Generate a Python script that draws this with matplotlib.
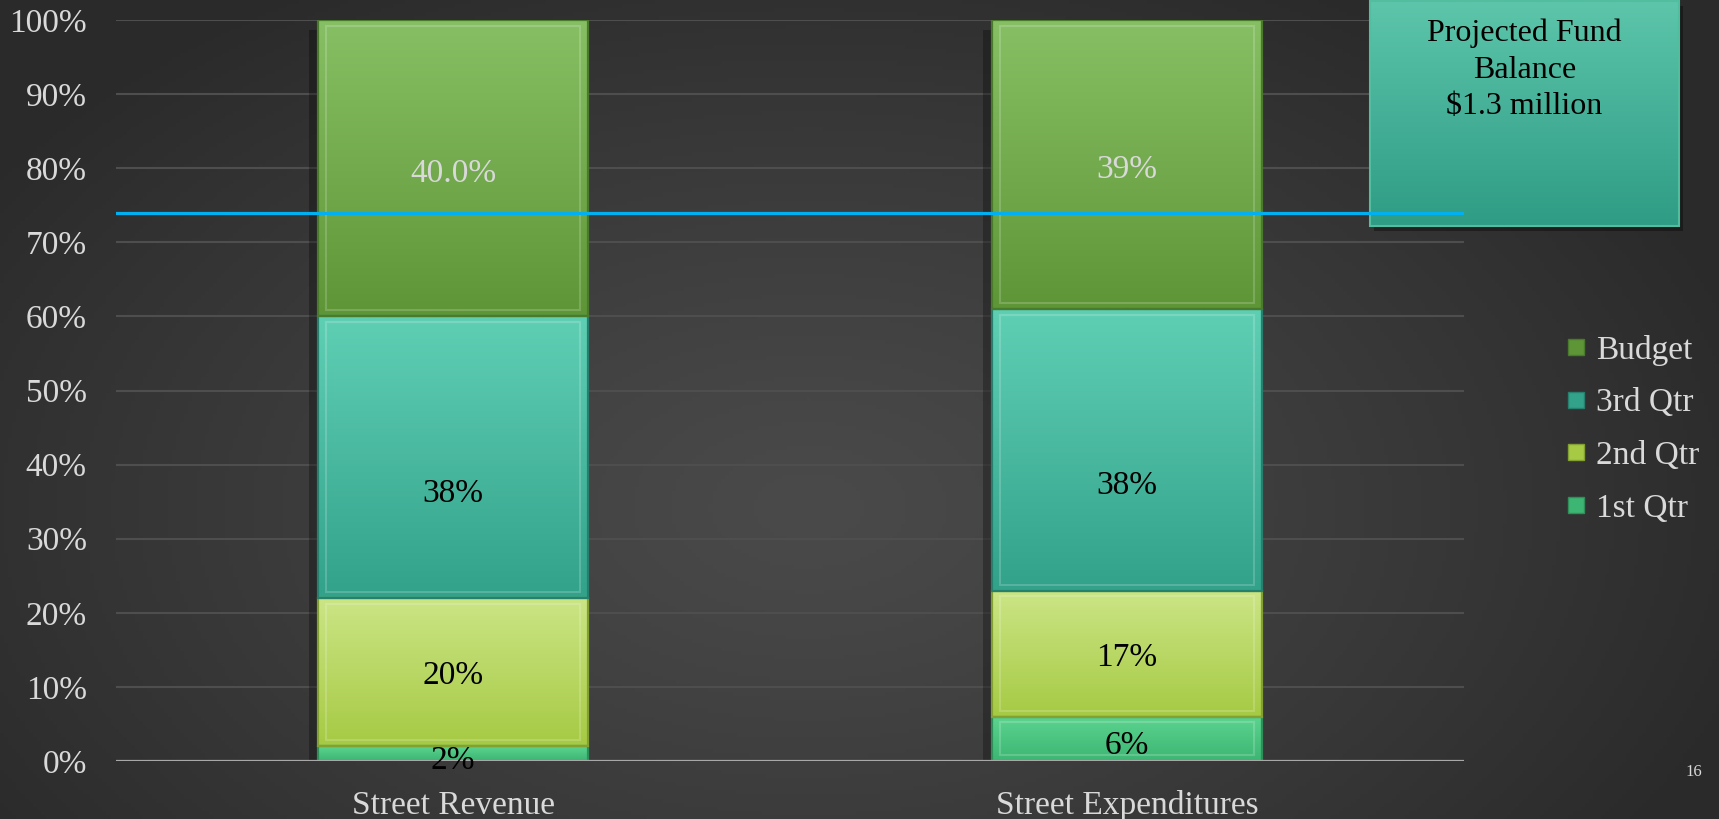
"""Street fund: quarterly share of budget, revenue vs expenditures (stacked 100%)."""
import matplotlib
matplotlib.use("Agg")
import matplotlib.pyplot as plt
from matplotlib.colors import to_rgb
from matplotlib.lines import Line2D
from matplotlib.patches import Rectangle
import numpy as np

plt.rcParams["font.family"] = ["Liberation Serif", "DejaVu Serif"]

CATEGORIES = ["Street Revenue", "Street Expenditures"]
SERIES = ["1st Qtr", "2nd Qtr", "3rd Qtr", "Budget"]
Q1 = [2, 6]
Q2 = [20, 17]
Q3 = [38, 38]
BUDGET = [40, 39]
Q1_LABELS = ["2%", "6%"]
Q2_LABELS = ["20%", "17%"]
Q3_LABELS = ["38%", "38%"]
BUDGET_LABELS = ["40.0%", "39%"]
YTICKS = list(range(0, 101, 10))
MARKER_LINE = 74
BOX_TEXT = "Projected Fund\nBalance\n$1.3 million"
PAGE_NO = "16"

# top colour, bottom colour, edge, label colour, label nudge (pct points)
STYLE = {
    "1st Qtr": ("#5cd490", "#3db673", "#2f8f58", "black", -1.0),
    "2nd Qtr": ("#cbe585", "#a6ca44", "#83a132", "black", -0.5),
    "3rd Qtr": ("#5fcfb4", "#33a28b", "#27806d", "black", -4.9),
    "Budget": ("#87bf64", "#5e9637", "#4a7a2b", "#d9d9d9", -0.7),
}
TXT = "#d9d9d9"
FS = 24
W, H = 1719, 819


def vgrad(top, bottom, n=64):
    t = np.linspace(0, 1, n)[:, None, None]
    return (1 - t) * np.array(to_rgb(top)) + t * np.array(to_rgb(bottom))


def main():
    fig = plt.figure(figsize=(W / 100, H / 100), dpi=100)

    # slide background: soft radial glow on dark grey
    bg = fig.add_axes([0, 0, 1, 1], zorder=-5)
    yy, xx = np.mgrid[0:1:200j, 0:1:420j]
    r = np.sqrt(((xx - 0.47) * 1.3) ** 2 + (yy - 0.62) ** 2)
    r = np.clip(r / 0.75, 0, 1)
    c0, c1 = np.array(to_rgb("#4a4a4a")), np.array(to_rgb("#2a2a2a"))
    img = c0 + (c1 - c0) * r[..., None] ** 1.2
    bg.imshow(img, extent=[0, 1, 0, 1], aspect="auto", origin="upper")
    bg.axis("off")

    ax = fig.add_axes([116 / W, 1 - 761 / H, 1348 / W, 741 / H])
    ax.set_facecolor("none")

    x = np.arange(len(CATEGORIES))
    width = 0.4
    data = {"1st Qtr": Q1, "2nd Qtr": Q2, "3rd Qtr": Q3, "Budget": BUDGET}
    labels = {"1st Qtr": Q1_LABELS, "2nd Qtr": Q2_LABELS,
              "3rd Qtr": Q3_LABELS, "Budget": BUDGET_LABELS}

    totals = np.sum([data[s] for s in SERIES], axis=0)
    for xi, tot in zip(x, totals):
        ax.add_patch(Rectangle((xi - width / 2 - 0.014, -0.5), width, tot - 0.8,
                               color="black", alpha=0.28, lw=0, zorder=1.8))

    bottom = np.zeros(len(x))
    for s in SERIES:
        top_c, bot_c, edge_c, lab_c, dy = STYLE[s]
        bars = ax.bar(x, data[s], width=width, bottom=bottom, color=top_c,
                      lw=0, zorder=2, label=s)
        for rect, lab in zip(bars, labels[s]):
            x0, y0 = rect.get_x(), rect.get_y()
            w, h = rect.get_width(), rect.get_height()
            im = ax.imshow(vgrad(top_c, bot_c), extent=[x0, x0 + w, y0, y0 + h],
                           aspect="auto", interpolation="bilinear", zorder=2.1)
            im.set_clip_path(rect)
            if h > 3:
                ax.add_patch(Rectangle((x0 + 0.012, y0 + 0.8), w - 0.024, h - 1.6,
                                       fill=False, ec=(1, 1, 1, 0.18), lw=1.5,
                                       zorder=2.2))
            ax.add_patch(Rectangle((x0, y0), w, h, fill=False, ec=edge_c,
                                   lw=1.6, zorder=2.3))
            ax.text(rect.get_x() + w / 2, y0 + h / 2 + dy, lab, ha="center",
                    va="center", fontsize=FS, color=lab_c, zorder=5)
        bottom += np.array(data[s])

    # callout box sits behind the reference line
    bx0, bx1, by0, by1 = 1370 / W, 1679 / W, 1 - 226 / H, 1 - 1 / H
    ax.add_patch(Rectangle((bx0 + 4 / W, by0 - 5 / H), bx1 - bx0, by1 - by0,
                           transform=fig.transFigure, clip_on=False,
                           color="black", alpha=0.35, lw=0, zorder=0.9))
    bim = ax.imshow(vgrad("#5cc5aa", "#2f9c85"), extent=[bx0, bx1, by0, by1],
                    transform=fig.transFigure, aspect="auto",
                    interpolation="bilinear", zorder=1)
    bim.set_clip_on(False)
    ax.add_patch(Rectangle((bx0, by0), bx1 - bx0, by1 - by0,
                           transform=fig.transFigure, clip_on=False,
                           fill=False, ec="#52bd9f", lw=1.5, zorder=1.1))
    fig.text((bx0 + bx1) / 2, 1 - 19 / H, BOX_TEXT, ha="center", va="top",
             fontsize=FS - 1, color="black", linespacing=1.32, zorder=6)

    ax.axhline(MARKER_LINE, color="#00b0f0", lw=2.3, zorder=4)
    ax.axhline(0, color="#a8a8a8", lw=1.6, zorder=3)

    ax.set_xlim(-0.5, 1.5)
    ax.set_ylim(0, 100)
    ax.set_yticks(YTICKS)
    ax.set_yticklabels([f"{v}%" for v in YTICKS])
    ax.set_xticks(x)
    ax.set_xticklabels(CATEGORIES)
    ax.yaxis.grid(True, color="#4e4e4e", lw=1.5)
    ax.set_axisbelow(True)
    ax.tick_params(axis="y", length=0, pad=21, labelsize=FS, labelcolor=TXT)
    ax.tick_params(axis="x", length=0, pad=21, labelsize=FS, labelcolor=TXT)
    for sp in ax.spines.values():
        sp.set_visible(False)

    handles = [Line2D([0], [0], marker="s", ls="none", markersize=12,
                      markerfacecolor=STYLE[s][1], markeredgecolor=STYLE[s][2],
                      label=s) for s in reversed(SERIES)]
    fig.legend(handles=handles, loc="upper left",
               bbox_to_anchor=(1566 / W, 1 - 335 / H), frameon=False,
               fontsize=FS, labelcolor=TXT, handlelength=0.6,
               handletextpad=0.3, labelspacing=0.66, borderpad=0,
               borderaxespad=0)

    fig.text(1694 / W, 1 - 772 / H, PAGE_NO, ha="center", va="center",
             fontsize=12, color=TXT)

    fig.savefig("out.png", dpi=100)
    plt.close(fig)


if __name__ == "__main__":
    main()
